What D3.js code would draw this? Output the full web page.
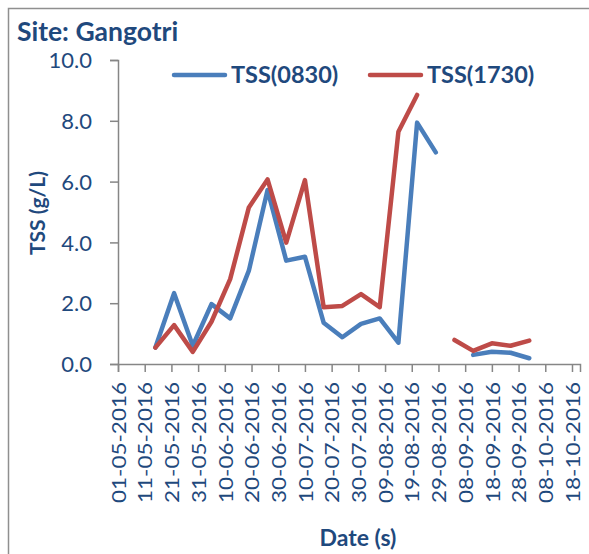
<!DOCTYPE html>
<html>
<head>
<meta charset="utf-8">
<script src="https://cdn.jsdelivr.net/npm/d3@7"></script>
<style>
  html, body { margin: 0; padding: 0; background: #fff; }
  svg { display: block; }
  text { font-family: Lato, "Liberation Sans", Arial, sans-serif; }
</style>
</head>
<body>
<svg id="chart" width="589" height="554"></svg>
<script>
// ---- data ----
const sampleDates = ["15-05-2016","22-05-2016","29-05-2016","05-06-2016","12-06-2016","19-06-2016","26-06-2016",
  "03-07-2016","10-07-2016","17-07-2016","24-07-2016","31-07-2016","07-08-2016","14-08-2016","21-08-2016",
  "28-08-2016","04-09-2016","11-09-2016","18-09-2016","25-09-2016","02-10-2016"];
const tss0830 = [0.54, 2.33, 0.60, 1.97, 1.50, 3.07, 5.72, 3.40, 3.53, 1.36, 0.88, 1.32, 1.50, 0.70, 7.94, 6.96, null, 0.30, 0.40, 0.37, 0.19];
const tss1730 = [0.54, 1.28, 0.40, 1.39, 2.79, 5.15, 6.07, 3.99, 6.05, 1.87, 1.91, 2.30, 1.87, 7.64, 8.85, null, 0.79, 0.43, 0.68, 0.60, 0.77];
const seriesNames = ["TSS(0830)", "TSS(1730)"];
const xTickLabels = ["01-05-2016","11-05-2016","21-05-2016","31-05-2016","10-06-2016","20-06-2016","30-06-2016",
  "10-07-2016","20-07-2016","30-07-2016","09-08-2016","19-08-2016","29-08-2016","08-09-2016","18-09-2016",
  "28-09-2016","08-10-2016","18-10-2016"];
const yTicks = [0, 2, 4, 6, 8, 10];
const axisStart = "01-05-2016", axisEnd = "21-10-2016";

// ---- layout ----
const W = 589, H = 554;
const plot = { left: 118, right: 580, top: 60, bottom: 364 };
const textColor = "#1F497D";
const axisColor = "#868686";
const colors = ["#4A7EBB", "#BE4B48"];

const parse = d3.utcParse("%d-%m-%Y");
const fmt = d3.utcFormat("%d-%m-%Y");
const svg = d3.select("#chart");

// border
svg.append("path").attr("d", `M8.5,${H} V8.5 H${W}`).attr("fill", "none")
  .attr("stroke", "#8f8f8f").attr("stroke-width", 1.5);

const x = d3.scaleUtc().domain([parse(axisStart), parse(axisEnd)]).range([plot.left, plot.right]);
const y = d3.scaleLinear().domain([0, 10]).range([plot.bottom, plot.top]);

// y axis
const gy = svg.append("g").attr("transform", `translate(${plot.left},0)`)
  .call(d3.axisLeft(y).tickValues(yTicks).tickFormat(d3.format(".1f")).tickSizeOuter(0).tickSize(8).tickPadding(18));
gy.select(".domain").attr("stroke", axisColor).attr("stroke-width", 1.5);
gy.selectAll(".tick line").attr("stroke", axisColor).attr("stroke-width", 1.5);
gy.selectAll(".tick text").attr("fill", textColor).attr("font-size", 22).attr("font-family", "Lato")
  .attr("dy", "0.35em");

// x axis
const gx = svg.append("g").attr("transform", `translate(0,${plot.bottom})`)
  .call(d3.axisBottom(x).tickValues(xTickLabels.map(parse)).tickFormat(fmt).tickSizeOuter(0).tickSize(8));
gx.select(".domain").attr("stroke", axisColor).attr("stroke-width", 1.5);
gx.selectAll(".tick line").attr("stroke", axisColor).attr("stroke-width", 1.5);
gx.selectAll(".tick text")
  .attr("fill", textColor).attr("font-size", 20).attr("font-family", "Lato")
  .attr("transform", "rotate(-90)")
  .attr("text-anchor", "end")
  .attr("x", -18).attr("y", 0).attr("dy", "0.36em")
  .attr("textLength", 121).attr("lengthAdjust", "spacingAndGlyphs");

// lines
const dates = sampleDates.map(parse);
[tss0830, tss1730].forEach((vals, i) => {
  const pts = vals.map((v, j) => ({ d: dates[j], v }));
  const line = d3.line().defined(p => p.v != null).x(p => x(p.d)).y(p => y(p.v));
  svg.append("path").datum(pts).attr("d", line).attr("fill", "none")
    .attr("stroke", colors[i]).attr("stroke-width", 4.5)
    .attr("stroke-linejoin", "round").attr("stroke-linecap", "round");
});

// legend
const legendX = [174, 370];
seriesNames.forEach((name, i) => {
  const g = svg.append("g").attr("transform", `translate(${legendX[i]},75)`);
  g.append("line").attr("x1", 0).attr("x2", 51).attr("y1", 0).attr("y2", 0)
    .attr("stroke", colors[i]).attr("stroke-width", 4.5).attr("stroke-linecap", "round");
  g.append("text").attr("x", 57).attr("y", 0).attr("dy", "0.36em")
    .attr("fill", textColor).attr("font-weight", "bold").attr("font-size", 23.5)
    .text(name);
});

// title
svg.append("text").attr("x", 17).attr("y", 41).attr("fill", textColor)
  .attr("font-weight", "bold").attr("font-size", 26.5).text("Site: Gangotri");

// axis titles
svg.append("text").attr("transform", "translate(45,213) rotate(-90)")
  .attr("text-anchor", "middle").attr("fill", textColor)
  .attr("font-weight", "bold").attr("font-size", 21).text("TSS (g/L)");
svg.append("text").attr("x", 358).attr("y", 546)
  .attr("text-anchor", "middle").attr("fill", textColor)
  .attr("font-weight", "bold").attr("font-size", 23).text("Date (s)");
</script>
</body>
</html>
